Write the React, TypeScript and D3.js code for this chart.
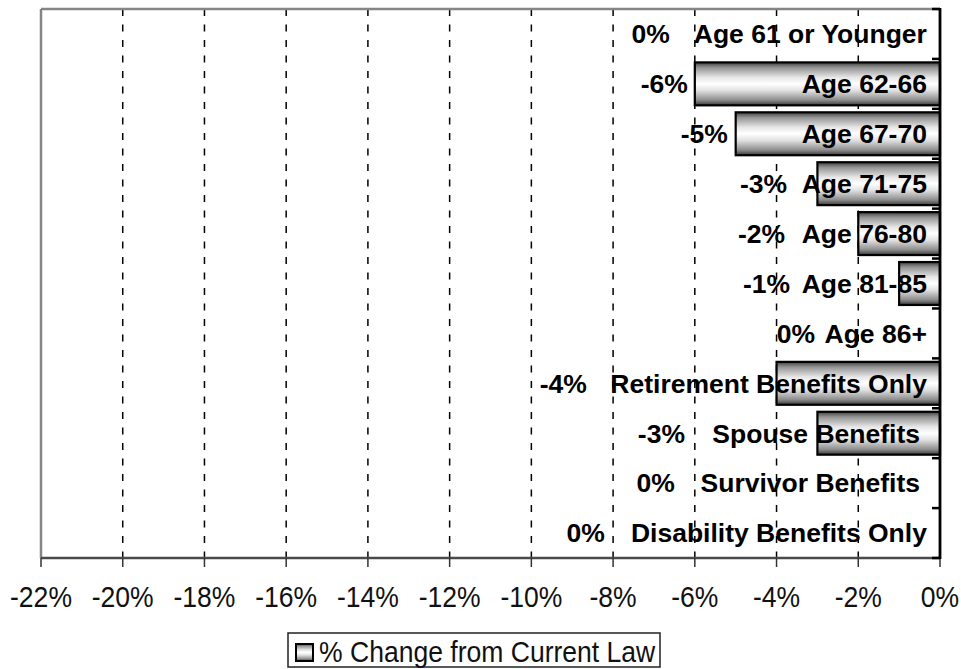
import React from "react";
import * as d3 from "d3";

const categories = [
  "Age 61 or Younger",
  "Age 62-66",
  "Age 67-70",
  "Age 71-75",
  "Age 76-80",
  "Age 81-85",
  "Age 86+",
  "Retirement Benefits Only",
  "Spouse Benefits",
  "Survivor Benefits",
  "Disability Benefits Only",
];
const values = [0, -6, -5, -3, -2, -1, 0, -4, -3, 0, 0];
const valueLabels = ["0%", "-6%", "-5%", "-3%", "-2%", "-1%", "0%", "-4%", "-3%", "0%", "0%"];
// label anchor (right edge) positions in axis units (%)
const valueLabelAt = [-6.61, -6.17, -5.19, -3.74, -3.79, -3.67, -3.06, -8.64, -6.24, -6.49, -8.2];
const nameLabelAt = [-0.32, -0.32, -0.32, -0.32, -0.32, -0.32, -0.32, -0.32, -0.49, -0.49, -0.32];
const tickValues = [-22, -20, -18, -16, -14, -12, -10, -8, -6, -4, -2, 0];
const tickLabels = ["-22%", "-20%", "-18%", "-16%", "-14%", "-12%", "-10%", "-8%", "-6%", "-4%", "-2%", "0%"];
const legendLabel = "% Change from Current Law";

const W = 961;
const H = 669;
const left = 41;
const right = 940;
const top = 9;
const bottom = 558;
const FONT = "'Liberation Sans', Arial, sans-serif";

export default function App() {
  const x = d3.scaleLinear().domain([-22, 0]).range([left, right]);
  const y = d3
    .scaleBand<string>()
    .domain(categories)
    .range([top, bottom])
    .paddingInner(0.14)
    .paddingOuter(0.07);
  const step = y.step();
  const rowEdges = d3.range(categories.length + 1).map((i) => top + i * step);

  return (
    <svg
      width={W}
      height={H}
      style={{ position: "absolute", left: 0, top: 0, display: "block", background: "#fff" }}
    >
      <defs>
        <linearGradient id="barGrad" x1="0" y1="0" x2="0" y2="1">
          <stop offset="0" stopColor="#404040" />
          <stop offset="0.12" stopColor="#939393" />
          <stop offset="0.35" stopColor="#e6e6e6" />
          <stop offset="0.5" stopColor="#ffffff" />
          <stop offset="0.65" stopColor="#e2e2e2" />
          <stop offset="0.88" stopColor="#8c8c8c" />
          <stop offset="1" stopColor="#383838" />
        </linearGradient>
      </defs>
      <rect x={0} y={0} width={W} height={H} fill="#fff" />

      {/* gridlines */}
      {tickValues
        .filter((t) => t !== -22 && t !== 0)
        .map((t) => (
          <line
            key={"g" + t}
            x1={x(t)}
            x2={x(t)}
            y1={top}
            y2={bottom}
            stroke="#000"
            strokeWidth={1.5}
            strokeDasharray="7,8.5"
          />
        ))}

      {/* frame left and top */}
      <line x1={left} x2={left} y1={top} y2={bottom} stroke="#858585" strokeWidth={2.5} />
      <line x1={left} x2={right} y1={top} y2={top} stroke="#858585" strokeWidth={2.5} />

      {/* bars */}
      {categories.map((c, i) =>
        values[i] < 0 ? (
          <rect
            key={"b" + c}
            x={x(values[i])}
            y={y(c)}
            width={x(0) - x(values[i])}
            height={y.bandwidth()}
            fill="url(#barGrad)"
            stroke="#000"
            strokeWidth={2.2}
          />
        ) : null
      )}

      {/* bottom axis */}
      <line x1={left} x2={right} y1={bottom} y2={bottom} stroke="#4a4a4a" strokeWidth={2.5} />
      {tickValues.map((t) => (
        <line key={"t" + t} x1={x(t)} x2={x(t)} y1={bottom} y2={bottom + 9} stroke="#333" strokeWidth={1.5} />
      ))}
      {tickValues.map((t, i) => (
        <text
          key={"tl" + t}
          transform={`translate(${x(t)},${607}) scale(0.885,1)`}
          textAnchor="middle"
          fontFamily={FONT}
          fontSize={30}
          fill="#111"
        >
          {tickLabels[i]}
        </text>
      ))}

      {/* right axis */}
      <line x1={right} x2={right} y1={top - 1} y2={bottom + 1} stroke="#000" strokeWidth={2.8} />
      {rowEdges.map((e, i) => (
        <line key={"rt" + i} x1={right - 8} x2={right} y1={e} y2={e} stroke="#000" strokeWidth={2.5} />
      ))}

      {/* labels */}
      {categories.map((c, i) => {
        const cy = (y(c) as number) + y.bandwidth() / 2;
        return (
          <g key={"l" + c} fontFamily={FONT} fontWeight="bold" fontSize={26.5} fill="#000">
            <text x={x(valueLabelAt[i])} y={cy} dy="0.35em" textAnchor="end">
              {valueLabels[i]}
            </text>
            <text x={x(nameLabelAt[i])} y={cy} dy="0.35em" textAnchor="end">
              {c}
            </text>
          </g>
        );
      })}

      {/* legend */}
      <rect x={288} y={633} width={372} height={34} fill="#fff" stroke="#222" strokeWidth={1.5} />
      <rect x={296} y={644} width={17} height={17} fill="url(#barGrad)" stroke="#000" strokeWidth={2} />
      <text
        transform={`translate(${319},${662}) scale(0.885,1)`}
        fontFamily={FONT}
        fontSize={30}
        fill="#111"
      >
        {legendLabel}
      </text>
    </svg>
  );
}
